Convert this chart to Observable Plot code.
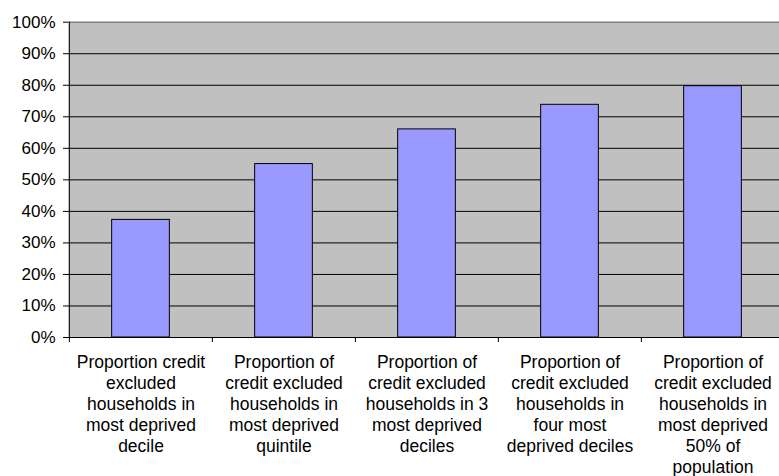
<!DOCTYPE html>
<html>
<head>
<meta charset="utf-8">
<script src="https://cdn.jsdelivr.net/npm/d3@7"></script>
<script src="https://cdn.jsdelivr.net/npm/@observablehq/plot@0.6"></script>
<style>
  html, body { margin: 0; padding: 0; background: white; overflow: hidden; }
  #chart svg { display: block; overflow: hidden; }
</style>
</head>
<body>
<div id="chart"></div>
<script>
const categories = [
  "Proportion credit\nexcluded\nhouseholds in\nmost deprived\ndecile",
  "Proportion of\ncredit excluded\nhouseholds in\nmost deprived\nquintile",
  "Proportion of\ncredit excluded\nhouseholds in 3\nmost deprived\ndeciles",
  "Proportion of\ncredit excluded\nhouseholds in\nfour most\ndeprived deciles",
  "Proportion of\ncredit excluded\nhouseholds in\nmost deprived\n50% of\npopulation"
];
const values = [0.373, 0.55, 0.66, 0.738, 0.797];
const yTicks = [0, 0.1, 0.2, 0.3, 0.4, 0.5, 0.6, 0.7, 0.8, 0.9, 1.0];
const gridLines = [0.1, 0.2, 0.3, 0.4, 0.5, 0.6, 0.7, 0.8, 0.9];

const data = categories.map((c, i) => ({cat: c, value: values[i]}));

const xRange = [68.5, 785];
const step = (xRange[1] - xRange[0]) / categories.length;
const barWidth = 58;
const inset = (step - barWidth) / 2;

const chart = Plot.plot({
  width: 779,
  height: 476,
  marginLeft: 68,
  marginRight: 0,
  marginTop: 22,
  marginBottom: 139,
  style: {fontFamily: "'Liberation Sans', Arial, sans-serif", fontSize: "17px", color: "black", background: "white"},
  x: {domain: categories, range: xRange, padding: 0, label: null},
  y: {domain: [0, 1], range: [337, 21.7], label: null},
  marks: [
    Plot.frame({fill: "#c0c0c0", stroke: null}),
    Plot.ruleY(gridLines, {stroke: "black", strokeWidth: 1}),
    Plot.ruleY([1], {stroke: "#808080", strokeWidth: 1.5}),
    Plot.barY(data, {x: "cat", y: "value", fill: "#9999ff", stroke: "black", strokeWidth: 1, insetLeft: inset, insetRight: inset}),
    Plot.ruleY([0], {stroke: "black", strokeWidth: 1}),
    Plot.ruleX([categories[0]], {dx: -step / 2, y1: 0, y2: 1, stroke: "black", strokeWidth: 1}),
    Plot.axisY({ticks: yTicks, tickSize: 5, tickPadding: 8, tickFormat: d => Math.round(d * 100) + "%", fontSize: 17, stroke: "black", fill: "black", label: null}),
    Plot.axisX({tickSize: 5, dx: -step / 2, tickFormat: () => "", stroke: "black", label: null}),
    Plot.axisX({tickSize: 0, tickPadding: 16, lineHeight: 1.2, fontSize: 17.5, fill: "black", textAnchor: "middle", label: null})
  ]
});
document.getElementById("chart").appendChild(chart);
</script>
</body>
</html>
